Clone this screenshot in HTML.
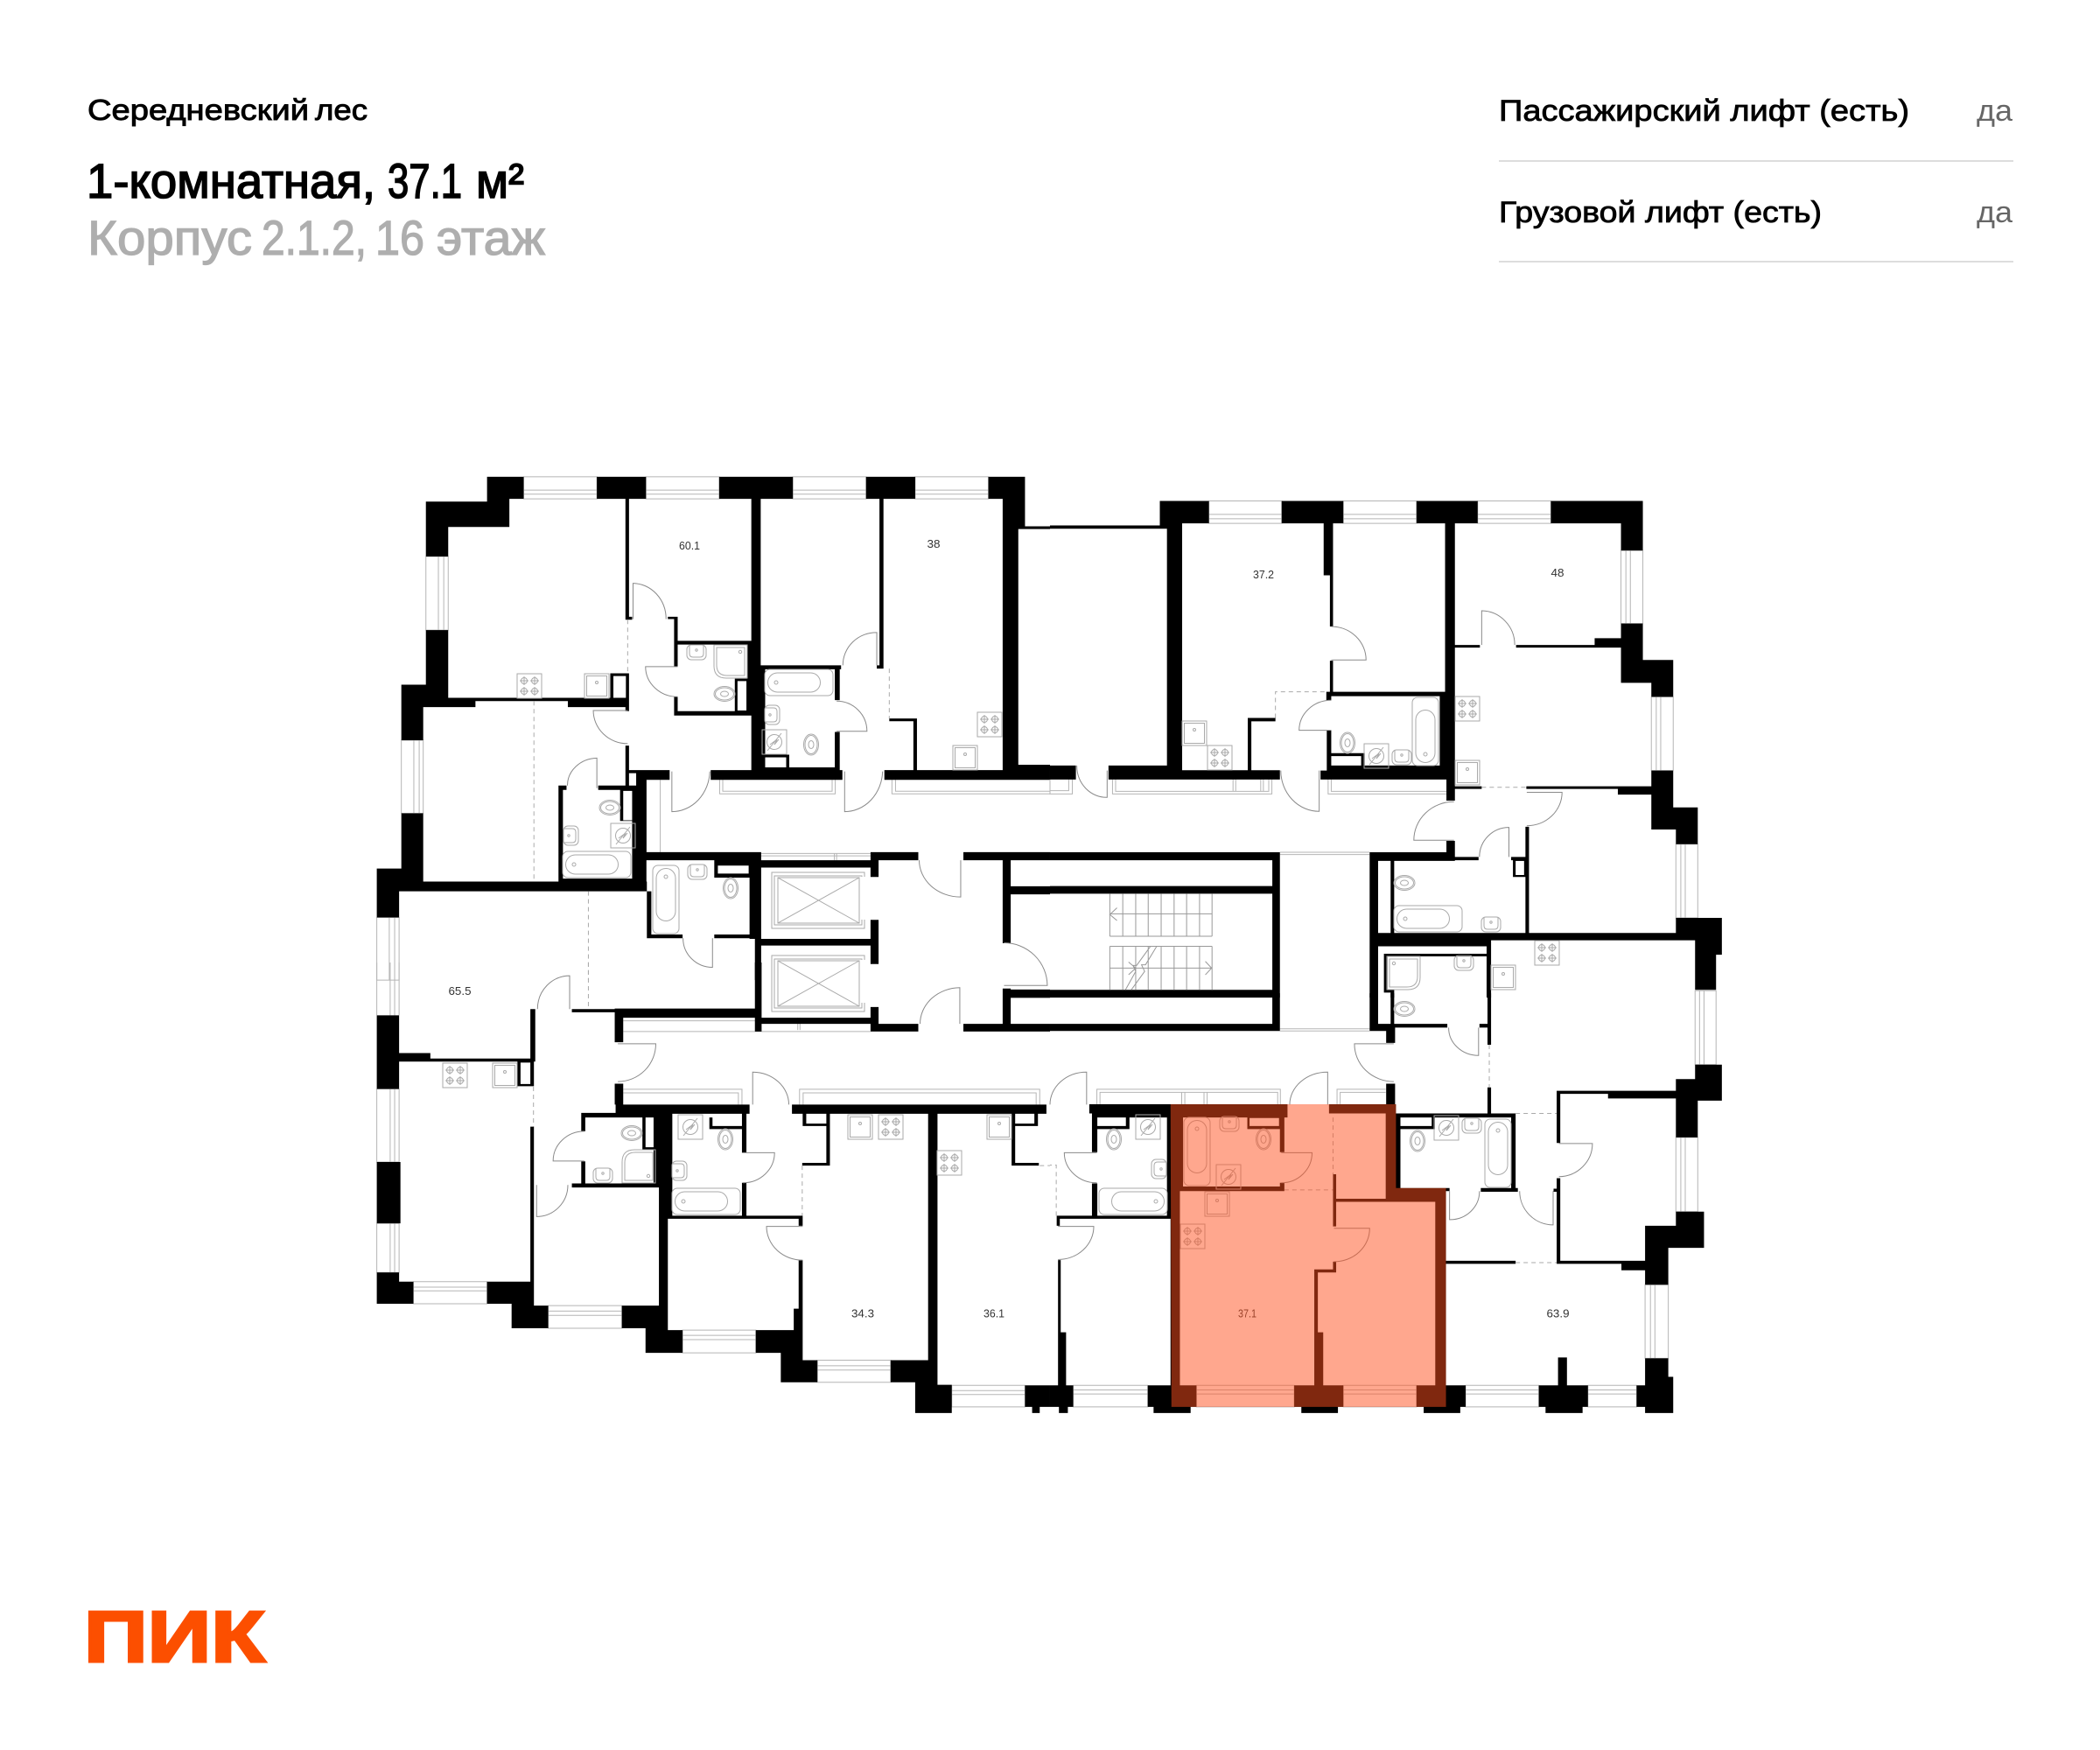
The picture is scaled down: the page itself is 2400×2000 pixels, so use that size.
<!DOCTYPE html>
<html lang="ru"><head><meta charset="utf-8"><title>Планировка</title>
<style>
html,body{margin:0;padding:0;background:#fff;width:2400px;height:2000px;overflow:hidden}
svg{display:block;position:absolute;left:0;top:0}
text{font-family:"Liberation Sans",sans-serif}
.k{fill:#000;stroke:none}
.c{fill:#fff;stroke:none}
.w,.d,.l{fill:none;stroke:#b5b5b5;stroke-width:1;vector-effect:non-scaling-stroke}
.d{stroke:#8a8a8a}
.l{stroke:#aaa;stroke-dasharray:5 4}
.f *{fill:none;stroke:#aaa;stroke-width:1}
.t{font-size:13px;fill:#333;text-anchor:middle}
</style></head><body>
<svg width="2400" height="2000" viewBox="0 0 2400 2000" xmlns="http://www.w3.org/2000/svg">
<defs>
<g id="stove"><rect width="28" height="28"/><circle cx="8" cy="8" r="3.5"/><circle cx="20" cy="8" r="3.5"/><circle cx="8" cy="20" r="3.5"/><circle cx="20" cy="20" r="3.5"/><path d="M3 8h10M8 3v10M15 8h10M20 3v10M3 20h10M8 15v10M15 20h10M20 15v10"/></g>
<g id="ksink"><rect width="28" height="28"/><rect x="2.5" y="2.5" width="23" height="23"/><circle cx="14" cy="10" r="1.5"/></g>
<g id="tub"><rect width="78" height="30" rx="6"/><rect x="3.5" y="4" width="60" height="22" rx="11"/><circle cx="13" cy="15" r="2"/></g>
<g id="toilet"><ellipse rx="12" ry="8.5"/><ellipse rx="10.5" ry="7"/><ellipse rx="4.5" ry="3"/></g>
<g id="sink"><rect x="-11" y="-9" width="22" height="17" rx="5"/><path d="M-8 -9v10q0 4 4 4h8q4 0 4-4v-10"/><circle cy="-3" r="1.2"/></g>
<g id="meter"><rect x="-14" y="-14" width="28" height="28"/><circle r="8.5"/><path d="M-8 10L8 -10M-5 3L3 -3L0 3L5 -3"/></g>
<g id="shower"><path d="M0 0H38V38H14Q0 38 0 24Z"/><path d="M3 3H35V35H15Q3 35 3 23Z"/><circle cx="30" cy="8" r="1.7"/></g>
</defs>

<!-- Z1 -->
<g transform="translate(400 520) scale(.5102 .3827)">
<path class="w" d="M389 65H553V131H389ZM389 105H553M389 117H553M663 65H827V131H663ZM663 105H827M663 117H827M992 65H1156V131H992ZM992 105H1156M992 117H1156M1266 65H1430V131H1266ZM1266 105H1430M1266 117H1430M170 303H220V523H170ZM198 303V523M210 303V523M115 852H164V1070H115ZM143 852V1070M155 852V1070M60 1381H110V1568H60ZM88 1381V1568M100 1381V1568M828 970V1012H1087V970M835 970V1004H1080V970M1214 970V1012H1568M1222 970V1004H1568M664 970V1186M695 970V1186M921 1190H1166M921 1197H1166M1085 1190V1210M1090 1190V1210"/>
<path class="k" d="M307 65H389V131H357V215H220V303H170V139H307ZM553 65H663V131H553ZM827 65H992V131H827ZM1156 65H1266V131H1156ZM1430 65H1512V213H1568V221H1497V941H1462V131H1430ZM617 131H625V492H617ZM617 483H632V492H617ZM899 131H920V941H899ZM889 555H899V775H889ZM1186 131H1195V638H1180V628H1186ZM170 523H220V725H170ZM115 686H220V753H164V852H115ZM220 725H625V753H488V735H281V753H220ZM617 653H625V765H617ZM583 652H625V727H583ZM712 483H734V632H726V490H712ZM734 555H899V566H734ZM726 722H734V765H899V778H726ZM862 668H890V765H862ZM920 628H1100V640H920ZM1086 636H1097V732H1086ZM1086 827H1097V941H1086ZM920 933H1097V941H920ZM930 895H984V903H930ZM977 897H984V933H977ZM920 640H930V933H920ZM808 941H1103V970H808ZM625 941H716V970H625ZM642 945H664V1190H642ZM617 868H625V1000H617ZM617 941H642V1000H617ZM467 987H485V1000H477V1265H467ZM556 987H642V1000H556ZM605 1000H640V1093H605ZM632 1000H664V1274H632ZM467 1265H640V1274H467ZM60 1235H164V1274H665V1303H110V1381H60ZM115 1070H164V1235H115ZM664 1186H921V1210H664ZM1166 1186H1273V1210H1166ZM1374 1186H1568V1210H1374ZM921 1210H1184V1232H921ZM1166 1232H1184V1260H1166ZM895 1210H921V1568H907V1445H895ZM1166 1388H1184V1520H1166ZM921 1445H1184V1465H921ZM665 1303H675V1443H665ZM665 1432H745V1443H665ZM816 1432H907V1443H816ZM816 1210H895V1262H816ZM1462 1210H1480V1458H1462ZM1480 1288H1568V1312H1480ZM1208 787H1270V795H1208ZM1262 787H1270V941H1262ZM1497 925H1568V970H1497ZM1197 941H1568V970H1197Z"/>
<path class="c" d="M590 660H618V725H590ZM868 675H888V763H868ZM625 950H641V987H625ZM612 1003H632V1091H612ZM824 1226H893V1250H824ZM930 903H977V933H930ZM984 897H1085V933H984Z"/>
<path class="d" d="M634 490V383A75 107 0 0 1 708 490M734 632H662A72 90 0 0 0 734 722M622 763H545A77 99 0 0 0 622 862M553 995V905A68 82 0 0 0 487 987M721 945V1065A85 124 0 0 0 806 945M1108 945V1065A85 124 0 0 0 1193 945M1180 628V530A75 98 0 0 0 1104 628M1090 825H1158A68 90 0 0 0 1090 735M812 1443V1530A66 87 0 0 1 746 1443M1368 1210V1320A93 110 0 0 1 1275 1210"/>
<path class="l" d="M412 735V1274M534 1303V1568M622 492V652M1208 638V787"/>
</g>

<!-- Z2 -->
<g transform="translate(1200 540) scale(.5102 .3827)">
<path class="w" d="M356 85H519V152H356ZM356 125H519M356 138H519M657 85H821V152H657ZM657 125H821M657 138H821M958 85H1122V152H958ZM958 125H1122M958 138H1122M1279 233H1328V451H1279ZM1290 233V451M1300 233V451M1347 670H1396V890H1347ZM1358 670V890M1368 670V890M1402 1110H1451V1330H1402ZM1413 1110V1330M1423 1110V1330M0 917V960H50V917M0 950H42V917M140 917V960H497V917M147 917V952H490V917M410 917V952M416 917V952M472 917V952M478 917V952M623 917V960H888M630 917V952H888M515 1134H716M515 1141H716"/>
<path class="k" d="M0 158H246V168H0ZM246 85H356V152H296V890H262V168H246ZM519 85H657V152H634V460H627V307H613V152H519ZM627 562H634V655H627ZM885 152H907V980H888V905H885ZM821 85H958V152H821ZM1122 85H1328V233H1279V152H1122ZM1279 451H1328V560H1396V670H1347V628H1279ZM1347 890H1396V1000H1451V1110H1402V1066H1347ZM907 515H963V523H907ZM1044 515H1220V495H1279V523H1044ZM907 937H967V945H907ZM1067 937H1347V962H1272V945H1067ZM888 1100H907V1160H888ZM620 655H885V668H620ZM619 655H630V680H619ZM620 770H630V890H620ZM630 838H705V875H697V847H630ZM606 890H907V917H606ZM620 875H885V890H620ZM873 668H885V875H873ZM0 875H58V917H0ZM131 875H296V889H515V917H131ZM443 733H505V743H443ZM443 743H451V889H443ZM0 1134H515V1158H0ZM498 1158H515V1568H498ZM0 1235H498V1258H0ZM0 1545H498V1568H0ZM716 1134H735V1568H716ZM735 1134H907V1160H735ZM763 1160H771V1375H763ZM735 1375H1402V1330H1505V1440H1492V1545H1445V1397H988V1568H978V1415H735ZM907 1148H960V1158H907ZM1033 1148H1070V1158H1033ZM1037 1158H1068V1208H1037ZM1065 1058H1073V1375H1065ZM748 1437H978V1445H748ZM748 1445H756V1545H748ZM748 1545H771V1553H748ZM763 1553H771V1568H763Z"/>
<path class="c" d="M1043 1160H1062V1202H1043Z"/>
<path class="d" d="M630 460A78 100 0 0 1 708 560H630M630 680A72 90 0 0 0 558 770H630M603 890V1012A86 122 0 0 1 517 890M967 515V413A75 102 0 0 1 1041 515M905 983A90 115 0 0 0 815 1098H905M1068 955H1147A79 100 0 0 1 1068 1055M1028 1148V1060A66 88 0 0 0 962 1148M128 890V970A66 95 0 0 1 60 875"/>
<path class="l" d="M505 733V655H620M967 940H1067"/>
<path class="w" style="stroke:#999" d="M134 1258V1385M163 1258V1385M192 1258V1385M220 1258V1385M249 1258V1385M278 1258V1385M306 1258V1385M335 1258V1385M363 1258V1385M134 1415V1545M163 1415V1545M192 1415V1545M220 1415V1545M249 1415V1545M278 1415V1545M306 1415V1545M335 1415V1545M363 1415V1545M134 1318H363M134 1385H363M134 1415H363M134 1480H363M150 1300L134 1320L150 1338M348 1460L362 1480L348 1500M239 1415L214 1470L205 1470L212 1490L182 1545M225 1415L194 1472L186 1472L192 1490L169 1545M176 1462L192 1480L176 1500"/>
</g>

<!-- Z3 -->
<g transform="translate(400 1100) scale(.5102 .3507)">
<path class="w" d="M60 0V172M110 0V172M90 0V172M100 0V172M60 412H110V650H60ZM90 412V650M100 412V650M60 850H110V1010H60ZM90 850V1010M100 850V1010M142 1040H307V1112H142ZM142 1058H307M142 1070H307M444 1118H609V1192H444ZM444 1136H609M444 1150H609M745 1198H909V1272H745ZM745 1215H909M745 1229H909M1047 1296H1211V1368H1047ZM1047 1314H1211M1047 1328H1211M1348 1378H1512V1448H1348ZM1348 1395H1512M1348 1408H1512M612 190H1166M612 225H1166M1003 180V220M1008 180V220M612 413H878V463M612 425H870V463M1007 463V413H1545V463M1015 463V425H1537V463"/>
<path class="k" d="M60 172H110V295H180V313H404V152H415V323H110V412H60ZM375 323H412V403H375ZM404 535H412V725H404ZM404 725H412V1118H444V1192H362V1112H307V1040H404ZM60 650H113V850H60ZM60 1010H110V1040H142V1112H60ZM692 493H722V830H712V1198H745V1272H662V1192H609V1118H692ZM909 1198H994V1128H1005V970H1014V1296H1047V1368H965V1272H909ZM1211 1296H1295V493H1316V1376H1348V1468H1266V1368H1211ZM1512 1378H1568V1448H1545V1468H1528V1448H1512ZM518 490H722V505H527V550H518ZM595 463H895V493H595ZM593 395H612V463H593ZM593 150H612V260H593ZM497 152H595V162H497ZM593 150H907V180H593ZM907 0H922V225H907ZM922 180H1184V200H922ZM1166 145H1184V225H1166ZM1166 200H1273V225H1166ZM1374 200H1568V225H1374ZM1462 85H1480V200H1462ZM1480 88H1568V115H1480ZM518 648H527V725H518ZM497 720H692V733H497ZM655 505H685V610H655ZM680 505H692V720H680ZM878 493H888V620H878ZM878 718H888V825H878ZM805 505H812V533H878V543H805ZM712 825H1014V835H712ZM1005 825H1014V858H1005ZM990 463H1560V493H990ZM1014 493H1022V525H1067V493H1075V662H1013V653H1067V533H1014ZM1482 493H1490V653H1543V662H1482ZM1533 493H1541V533H1490V525H1533Z"/>
<path class="c" d="M382 326H404V396H382ZM662 505H680V602H662Z"/>
<path class="d" d="M492 152V43A72 109 0 0 0 420 152M600 265H685A85 123 0 0 1 600 388M902 463V357A82 106 0 0 1 983 463M525 550A70 97 0 0 0 455 647H525M880 620H951A71 98 0 0 1 880 718M418 725V828A70 103 0 0 0 488 725M1014 860H933A81 110 0 0 0 1014 970M1366 200V82A90 118 0 0 0 1277 200M1465 75H1562A97 140 0 0 0 1465 -64"/>
<path class="l" d="M534 0V150M411 405V535M1013 662V825M1545 662H1568"/>
</g>

<!-- Z4 -->
<g transform="translate(1200 1100) scale(.5102 .3507)">
<path class="w" d="M52 1378H219V1448H52ZM52 1393H219M52 1406H219M328 1378H547V1448H328ZM328 1393H547M328 1406H547M657 1378H821V1448H657ZM657 1393H821M657 1406H821M931 1378H1095V1448H931ZM931 1393H1095M931 1406H1095M1205 1378H1314V1448H1205ZM1205 1393H1314M1205 1406H1314M1333 1050H1385V1290H1333ZM1345 1050V1290M1355 1050V1290M1402 570H1451V812H1402ZM1413 570V812M1423 570V812M1445 92H1492V333H1445ZM1455 92V333M1465 92V333M105 463V413H516V463M112 463V423H510V463M295 423V463M302 423V463M345 423V463M352 423V463M643 463V413H752M650 463V423H752M515 216H716M515 223H716"/>
<path class="k" d="M498 100H515V223H498ZM0 200H515V223H0ZM716 100H735V223H716ZM716 200H890V212H773V262H753V223H716ZM962 200H988V212H962ZM980 100H988V268H980ZM763 100H771V205H763ZM753 395H773V462H753ZM980 407H988V492H980ZM270 462H532V505H525V618H515V505H298V730H515V718H525V745H291V1378H328V1448H272V1378H270ZM442 505H515V543H442ZM625 462H775V735H887V1448H821V1378H863V780H641V860H634V690H641V770H752V492H625ZM634 975H641V1010H600V1205H612V1378H657V1448H547V1378H592V1000H634ZM88 462H270V505H106V618H94V492H88ZM94 720H106V825H94ZM170 505H178V543H100V533H170ZM262 505H270V835H22V858H15V825H262ZM18 970H24V1205H36V1378H52V1448H40V1468H20V1448H0V1378H18ZM219 1378H272V1448H315V1468H232V1448H219ZM563 1448H645V1468H563ZM837 1448H919V1468H837ZM887 1378H931V1448H887ZM1095 1378H1205V1448H1193V1468H1110V1448H1095ZM1314 1378H1333V1290H1385V1350H1396V1468H1333V1448H1314ZM1138 1287H1158V1378H1138ZM775 492H1043V505H775ZM775 505H785V735H775ZM1033 505H1043V738H1033ZM785 735H895V745H785ZM965 735H1048V747H965ZM1128 737H1140V747H1128ZM855 505H862V543H785V533H855ZM1135 418H1250V428H1143V588H1135ZM1250 418H1402V443H1250ZM1445 333H1505V450H1451V570H1402V380H1445ZM1135 703H1143V972H1333V858H1402V812H1465V930H1385V1050H1333V1003H1280V982H1135ZM887 972H1043V982H887Z"/>
<path class="c" d="M447 507H513V533H447Z"/>
<path class="d" d="M82 463V357A82 106 0 0 0 0 463M622 463V357A85 106 0 0 0 537 463M105 620H32A73 98 0 0 0 105 718M518 620H587A69 98 0 0 1 518 718M18 860H98A80 108 0 0 1 18 968M636 866H716A80 108 0 0 1 636 975M770 265H682A88 122 0 0 0 770 388M960 212V303A67 90 0 0 1 893 212M895 745V838A66 92 0 0 0 962 745M1127 745V855A75 110 0 0 1 1052 745M1140 590H1215A76 108 0 0 1 1140 698"/>
<path class="l" d="M984 268V407M1043 492H1135M1043 978H1135M525 741H634M634 505V690M14 825V660H0"/>
</g>

<!-- lifts -->
<g class="f">
<path d="M988 1002V997H882V1061H988V1051M985 1002V1001H885V1057H985V1051"/><path d="M889 1003H982V1055H889ZM889 1003L982 1055M982 1003L889 1055"/>
<path d="M988 1097V1092H882V1156H988V1146M985 1097V1096H885V1152H985V1146"/><path d="M889 1098H982V1150H889ZM889 1098L982 1150M982 1098L889 1150"/>
<!-- stoves -->
<use href="#stove" x="591" y="770"/><use href="#stove" x="1117" y="814"/><use href="#stove" x="1663" y="796"/><use href="#stove" x="1380" y="852"/><use href="#stove" x="1754" y="1075"/><use href="#stove" x="506" y="1215"/><use href="#stove" x="1004" y="1274"/><use href="#stove" x="1071" y="1315"/><use href="#stove" x="1349" y="1399"/>
<!-- kitchen sinks -->
<use href="#ksink" x="668" y="770"/><use href="#ksink" x="1089" y="852"/><use href="#ksink" x="1351" y="824"/><use href="#ksink" x="1663" y="869"/><use href="#ksink" x="1704" y="1103"/><use href="#ksink" x="563" y="1215"/><use href="#ksink" x="969" y="1274"/><use href="#ksink" x="1128" y="1274"/><use href="#ksink" x="1377" y="1362"/>
<!-- tubs -->
<use href="#tub" x="874" y="765"/><use href="#tub" x="643" y="973"/><use href="#tub" x="1593" y="1035"/><use href="#tub" x="768" y="1358"/>
<use href="#tub" transform="translate(1334 1388) rotate(180)"/>
<use href="#tub" transform="translate(776 989) rotate(90)"/>
<use href="#tub" transform="translate(1614 875) rotate(-90)"/>
<use href="#tub" transform="translate(1383 1277) rotate(90)"/>
<use href="#tub" transform="translate(1727 1279) rotate(90)"/>
<!-- toilets -->
<use href="#toilet" x="828" y="793"/><use href="#toilet" x="697" y="923"/><use href="#toilet" x="1605" y="1009"/><use href="#toilet" x="722" y="1295"/><use href="#toilet" x="1605" y="1153"/>
<use href="#toilet" transform="translate(835 1015) rotate(90)"/><use href="#toilet" transform="translate(927 851) rotate(90)"/><use href="#toilet" transform="translate(1540 849) rotate(90)"/><use href="#toilet" transform="translate(829 1302) rotate(90)"/><use href="#toilet" transform="translate(1273 1302) rotate(90)"/><use href="#toilet" transform="translate(1444 1302) rotate(90)"/><use href="#toilet" transform="translate(1620 1304) rotate(90)"/>
<!-- sinks -->
<use href="#sink" x="796" y="746"/><use href="#sink" x="797" y="997"/><use href="#sink" x="1602" y="866"/><use href="#sink" x="1704" y="1057"/><use href="#sink" x="1673" y="1101"/><use href="#sink" x="689" y="1344"/><use href="#sink" x="1405" y="1285"/><use href="#sink" x="1682" y="1287"/>
<use href="#sink" transform="translate(653 955) rotate(-90)"/><use href="#sink" transform="translate(883 817) rotate(-90)"/><use href="#sink" transform="translate(777 1338) rotate(-90)"/><use href="#sink" transform="translate(1324 1336) rotate(90)"/>
<!-- meters -->
<use href="#meter" x="885" y="848"/><use href="#meter" x="712" y="955"/><use href="#meter" x="1573" y="864"/><use href="#meter" x="789" y="1288"/><use href="#meter" x="1312" y="1288"/><use href="#meter" x="1404" y="1345"/><use href="#meter" x="1653" y="1289"/>
<!-- showers -->
<use href="#shower" x="816" y="737"/><use href="#shower" transform="translate(1623 1093) scale(-1 1)"/><use href="#shower" transform="translate(711 1352) scale(1 -1)"/>
</g>

<!-- room labels -->
<text class="t" x="788" y="628" textLength="24" lengthAdjust="spacingAndGlyphs">60.1</text>
<text class="t" x="1067" y="626" textLength="15" lengthAdjust="spacingAndGlyphs">38</text>
<text class="t" x="1444" y="661" textLength="24" lengthAdjust="spacingAndGlyphs">37.2</text>
<text class="t" x="1780" y="659" textLength="15" lengthAdjust="spacingAndGlyphs">48</text>
<text class="t" x="525.5" y="1137" textLength="26" lengthAdjust="spacingAndGlyphs">65.5</text>
<text class="t" x="986" y="1505.5" textLength="26" lengthAdjust="spacingAndGlyphs">34.3</text>
<text class="t" x="1136" y="1505.5" textLength="24" lengthAdjust="spacingAndGlyphs">36.1</text>
<text class="t" x="1425.5" y="1505.5" textLength="21" lengthAdjust="spacingAndGlyphs">37.1</text>
<text class="t" x="1780.5" y="1505.5" textLength="26" lengthAdjust="spacingAndGlyphs">63.9</text>

<!-- highlight overlay -->
<g transform="translate(1200 1100) scale(.5102 .3507)">
<path d="M270 462H775V735H887V1448H272Z" fill="#ff4f1e" opacity=".5"/>
</g>

<!-- header -->
<g fill="#000" stroke="#000" stroke-width=".9" font-size="33">
<text x="100" y="137" textLength="253" lengthAdjust="spacingAndGlyphs">Середневский</text>
<text x="360" y="137" textLength="60" lengthAdjust="spacingAndGlyphs">лес</text>
</g>
<g fill="#000" stroke="#000" stroke-width="1.6" font-size="56">
<text x="99" y="226" textLength="330" lengthAdjust="spacingAndGlyphs">1-комнатная,</text>
<text x="443" y="226" textLength="85" lengthAdjust="spacingAndGlyphs">37.1</text>
<text x="544" y="226" textLength="55" lengthAdjust="spacingAndGlyphs">м²</text>
</g>
<g fill="#aeaeae" stroke="#aeaeae" stroke-width="1.3" font-size="56">
<text x="100" y="291" textLength="188" lengthAdjust="spacingAndGlyphs">Корпус</text>
<text x="299" y="291" textLength="120" lengthAdjust="spacingAndGlyphs">2.1.2,</text>
<text x="429" y="291" textLength="56" lengthAdjust="spacingAndGlyphs">16</text>
<text x="499" y="291" textLength="124" lengthAdjust="spacingAndGlyphs">этаж</text>
</g>
<g fill="#000" stroke="#000" stroke-width=".8" font-size="34">
<text x="1713" y="138" textLength="469" lengthAdjust="spacingAndGlyphs">Пассажирский лифт (есть)</text>
<text x="1713" y="254" textLength="369" lengthAdjust="spacingAndGlyphs">Грузовой лифт (есть)</text>
</g>
<text x="2259" y="138" font-size="34" fill="#666" textLength="41" lengthAdjust="spacingAndGlyphs">да</text>
<text x="2259" y="254" font-size="34" fill="#666" textLength="41" lengthAdjust="spacingAndGlyphs">да</text>
<rect x="1713" y="183" width="588" height="2" fill="#ddd"/>
<rect x="1713" y="298" width="588" height="2" fill="#ddd"/>

<!-- logo -->
<text x="96" y="1899" font-size="83" font-weight="700" fill="#fc4f00" stroke="#fc4f00" stroke-width="3" textLength="207" lengthAdjust="spacingAndGlyphs">ПИК</text>
</svg>
</body></html>
